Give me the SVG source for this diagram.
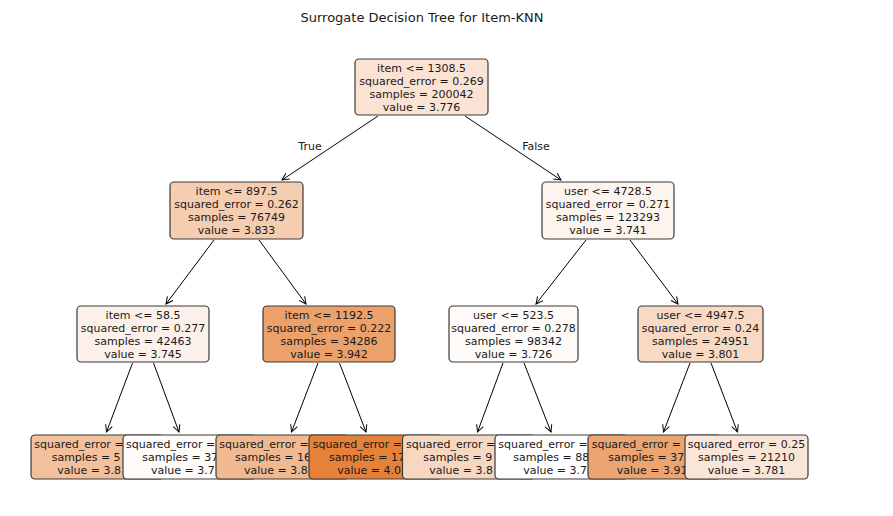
<svg xmlns="http://www.w3.org/2000/svg" width="893" height="516" viewBox="0 0 893 516">
<defs>
<marker id="arr" viewBox="-9 -5 10 10" refX="0" refY="0" markerWidth="10" markerHeight="10" markerUnits="userSpaceOnUse" orient="auto">
<path d="M-7,-3.5 L0,0 L-7,3.5" fill="none" stroke="#000" stroke-width="1"/>
</marker>
</defs>
<style>
.box{stroke:#3a3a3a;stroke-width:1.2}
text{font-family:"DejaVu Sans","Liberation Sans",sans-serif;font-size:11px;fill:#1a1a1a}
.c{text-anchor:middle}
.s{text-anchor:start}
.title{font-size:13px}
.edge{stroke:#000;stroke-width:1;fill:none;marker-end:url(#arr)}
</style>
<rect width="893" height="516" fill="#ffffff"/>
<text class="c title" x="422" y="21.5">Surrogate Decision Tree for Item-KNN</text>

<g id="connectors">
<line class="edge" x1="378" y1="116" x2="282" y2="180"/>
<line class="edge" x1="465" y1="116" x2="561" y2="180"/>
<line class="edge" x1="214" y1="240" x2="166" y2="304"/>
<line class="edge" x1="259" y1="240" x2="306" y2="304"/>
<line class="edge" x1="586" y1="240" x2="536" y2="304"/>
<line class="edge" x1="630" y1="240" x2="678" y2="304"/>
<line class="edge" x1="132.5" y1="363" x2="106.5" y2="432"/>
<line class="edge" x1="153.5" y1="363" x2="179" y2="432"/>
<line class="edge" x1="318" y1="363" x2="291.5" y2="432"/>
<line class="edge" x1="339.5" y1="363" x2="366" y2="432"/>
<line class="edge" x1="503" y1="363" x2="477.5" y2="432"/>
<line class="edge" x1="524" y1="363" x2="551" y2="432"/>
<line class="edge" x1="690" y1="363" x2="663.5" y2="432"/>
<line class="edge" x1="711" y1="363" x2="737.5" y2="432"/>
<text class="c" x="310" y="150">True</text>
<text class="c" x="536" y="150">False</text>
</g>

<g id="n0">
<rect class="box" x="355" y="59" width="133" height="56" rx="4" fill="#fbe3d4"/>
<text class="c" x="421.5" y="71.5">item &lt;= 1308.5</text>
<text class="c" x="421.5" y="84.5">squared_error = 0.269</text>
<text class="c" x="421.5" y="97.5">samples = 200042</text>
<text class="c" x="421.5" y="110.5">value = 3.776</text>
</g>

<g id="n1">
<rect class="box" x="170" y="182" width="133" height="57" rx="4" fill="#f5cdb0"/>
<text class="c" x="236.5" y="194.5">item &lt;= 897.5</text>
<text class="c" x="236.5" y="207.5">squared_error = 0.262</text>
<text class="c" x="236.5" y="220.5">samples = 76749</text>
<text class="c" x="236.5" y="233.5">value = 3.833</text>
</g>

<g id="n2">
<rect class="box" x="542" y="182" width="132" height="57" rx="4" fill="#fdf4ee"/>
<text class="c" x="608" y="194.5">user &lt;= 4728.5</text>
<text class="c" x="608" y="207.5">squared_error = 0.271</text>
<text class="c" x="608" y="220.5">samples = 123293</text>
<text class="c" x="608" y="233.5">value = 3.741</text>
</g>

<g id="n3">
<rect class="box" x="77" y="306" width="132" height="56" rx="4" fill="#fcf1ea"/>
<text class="c" x="143" y="318.5">item &lt;= 58.5</text>
<text class="c" x="143" y="331.5">squared_error = 0.277</text>
<text class="c" x="143" y="344.5">samples = 42463</text>
<text class="c" x="143" y="357.5">value = 3.745</text>
</g>

<g id="n4">
<rect class="box" x="263" y="306" width="132" height="56" rx="4" fill="#eca16b"/>
<text class="c" x="329" y="318.5">item &lt;= 1192.5</text>
<text class="c" x="329" y="331.5">squared_error = 0.222</text>
<text class="c" x="329" y="344.5">samples = 34286</text>
<text class="c" x="329" y="357.5">value = 3.942</text>
</g>

<g id="n5">
<rect class="box" x="449" y="306" width="129" height="56" rx="4" fill="#fefaf7"/>
<text class="c" x="513.5" y="318.5">user &lt;= 523.5</text>
<text class="c" x="513.5" y="331.5">squared_error = 0.278</text>
<text class="c" x="513.5" y="344.5">samples = 98342</text>
<text class="c" x="513.5" y="357.5">value = 3.726</text>
</g>

<g id="n6">
<rect class="box" x="638" y="306" width="125" height="56" rx="4" fill="#f7d9c4"/>
<text class="c" x="700.5" y="318.5">user &lt;= 4947.5</text>
<text class="c" x="700.5" y="331.5">squared_error = 0.24</text>
<text class="c" x="700.5" y="344.5">samples = 24951</text>
<text class="c" x="700.5" y="357.5">value = 3.801</text>
</g>

<g id="leaf1">
<rect class="box" x="31" y="435" width="133" height="44" rx="4" fill="#f2c09c"/>
<text class="s" x="34.3" y="447.5">squared_error =</text>
<text class="s" x="51.7" y="460.5">samples = 5</text>
<text class="s" x="57.3" y="473.5">value = 3.8</text>
</g>
<g id="leaf2">
<rect class="box" x="123" y="435" width="133" height="44" rx="4" fill="#fefbf9"/>
<text class="s" x="126" y="447.5">squared_error =</text>
<text class="s" x="142.3" y="460.5">samples = 37</text>
<text class="s" x="151" y="473.5">value = 3.7</text>
</g>
<g id="leaf3">
<rect class="box" x="216" y="435" width="133" height="44" rx="4" fill="#f1b991"/>
<text class="s" x="219.3" y="447.5">squared_error =</text>
<text class="s" x="235" y="460.5">samples = 16</text>
<text class="s" x="244" y="473.5">value = 3.8</text>
</g>
<g id="leaf4">
<rect class="box" x="309" y="435" width="133" height="44" rx="4" fill="#e58139"/>
<text class="s" x="312.7" y="447.5">squared_error =</text>
<text class="s" x="329" y="460.5">samples = 17</text>
<text class="s" x="337.3" y="473.5">value = 4.0</text>
</g>
<g id="leaf5">
<rect class="box" x="402.5" y="435" width="133" height="44" rx="4" fill="#f7d7c0"/>
<text class="s" x="406" y="447.5">squared_error =</text>
<text class="s" x="423.3" y="460.5">samples = 9</text>
<text class="s" x="429.3" y="473.5">value = 3.8</text>
</g>
<g id="leaf6">
<rect class="box" x="495" y="435" width="133" height="44" rx="4" fill="#ffffff"/>
<text class="s" x="498.3" y="447.5">squared_error =</text>
<text class="s" x="513.3" y="460.5">samples = 88</text>
<text class="s" x="523.3" y="473.5">value = 3.7</text>
</g>
<g id="leaf7">
<rect class="box" x="588" y="435" width="133" height="44" rx="4" fill="#eca470"/>
<text class="s" x="591.7" y="447.5">squared_error =</text>
<text class="s" x="608.3" y="460.5">samples = 37</text>
<text class="s" x="616.7" y="473.5">value = 3.91</text>
</g>
<g id="leaf8">
<rect class="box" x="685" y="435" width="123" height="44" rx="4" fill="#fae6d8"/>
<text class="c" x="746.5" y="447.5">squared_error = 0.25</text>
<text class="c" x="746.5" y="460.5">samples = 21210</text>
<text class="c" x="746.5" y="473.5">value = 3.781</text>
</g>
</svg>
